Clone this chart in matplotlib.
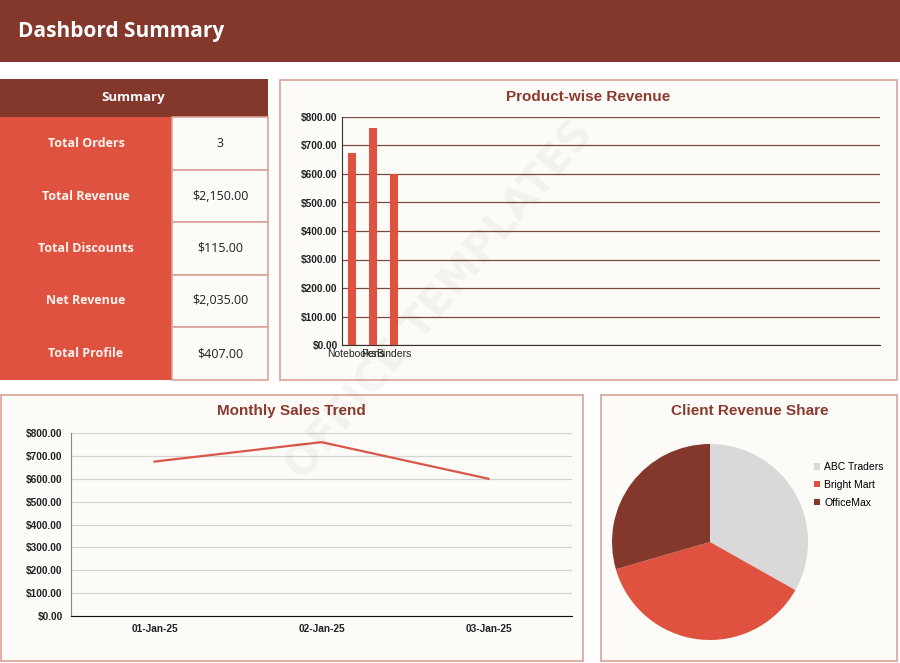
import matplotlib
matplotlib.use("Agg")
import matplotlib.pyplot as plt
from matplotlib.patches import Rectangle
from matplotlib.ticker import FuncFormatter

# ---- data ----
summary_labels = ["Total Orders", "Total Revenue", "Total Discounts", "Net Revenue", "Total Profile"]
summary_values = ["3", "$2,150.00", "$115.00", "$2,035.00", "$407.00"]
products = ["Notebooks", "Pens", "Binders"]
product_revenue = [675, 760, 600]
dates = ["01-Jan-25", "02-Jan-25", "03-Jan-25"]
daily_sales = [675, 760, 600]
clients = ["ABC Traders", "Bright Mart", "OfficeMax"]
client_revenue = [675, 760, 600]

DARK = "#84382C"
RED = "#E05240"
CREAM = "#FDFBF7"
BORDER = "#D9A39A"
TITLE = "#8B3A2E"

W, H = 900, 663
fig = plt.figure(figsize=(9, 6.63), dpi=100)
fig.patch.set_facecolor("#FFFFFF")

def fx(x): return x / W
def fy(y): return 1 - y / H

def rect(x0, y0, x1, y1, fc, ec="none", lw=1.0, z=-5):
    fig.add_artist(Rectangle((fx(x0), fy(y1)), fx(x1) - fx(x0), fy(y0) - fy(y1),
                             transform=fig.transFigure, facecolor=fc, edgecolor=ec,
                             linewidth=lw, zorder=z))

def ftext(x, y, s, **kw):
    fig.text(fx(x), fy(y), s, **kw)

# header
rect(0, 0, 900, 62, DARK)
ftext(18, 31, "Dashbord Summary", color="white", fontsize=15, fontweight="bold",
      family="Open Sans", va="center", ha="left")

# summary table
rect(0, 79, 268, 117, DARK)
ftext(133, 97, "Summary", color="white", fontsize=9.5, fontweight="bold",
      family="Open Sans", ha="center", va="center")
row_edges = [117, 170, 222, 275, 327, 380]
for i, (lab, val) in enumerate(zip(summary_labels, summary_values)):
    y0, y1 = row_edges[i], row_edges[i + 1]
    rect(0, y0, 172, y1, RED)
    rect(172, y0, 268, y1, CREAM, ec=BORDER, lw=1.2)
    ftext(86, (y0 + y1) / 2, lab, color="#FFF3EE", fontsize=9, fontweight="bold",
          family="Open Sans", ha="center", va="center")
    ftext(220, (y0 + y1) / 2, val, color="#222222", fontsize=9,
          family="Open Sans", ha="center", va="center")

# panels
rect(280, 80, 897, 380, CREAM, ec=BORDER, lw=1.2)
rect(1, 395, 583, 661, CREAM, ec=BORDER, lw=1.2)
rect(601, 395, 897, 661, CREAM, ec=BORDER, lw=1.2)

money = FuncFormatter(lambda v, p: "${:,.2f}".format(v))

# ---- bar chart ----
ax1 = fig.add_axes([fx(342), fy(345), fx(880) - fx(342), fy(117) - fy(345)])
ax1.set_facecolor("none")
x = list(range(len(products)))
ax1.bar(x, product_revenue, width=0.38, color=RED, zorder=3)
ax1.set_xlim(-0.48, 25.1)
ax1.set_ylim(0, 800)
ax1.set_yticks(range(0, 801, 100))
ax1.yaxis.set_major_formatter(money)
ax1.set_xticks(x)
ax1.set_xticklabels(products)
ax1.grid(axis="y", color="#7A4A40", linewidth=0.9, zorder=0)
for s in ["top", "right"]:
    ax1.spines[s].set_visible(False)
ax1.spines["left"].set_color("#333333")
ax1.spines["bottom"].set_color("#333333")
ax1.tick_params(length=0, labelsize=7.3, colors="#222222", pad=3)
for t in ax1.get_yticklabels():
    t.set_family("Liberation Sans")
    t.set_fontweight("bold")
for t in ax1.get_xticklabels():
    t.set_family("Liberation Sans")
    t.set_fontsize(7.5)
ftext(588, 97, "Product-wise Revenue", color=TITLE, fontsize=11, fontweight="bold",
      family="Liberation Sans", ha="center", va="center")

# ---- line chart ----
ax2 = fig.add_axes([fx(71), fy(616), fx(572) - fx(71), fy(433) - fy(616)])
ax2.set_facecolor("none")
xl = list(range(len(dates)))
ax2.plot(xl, daily_sales, color="#D9574A", linewidth=1.6, zorder=3)
ax2.set_xlim(-0.5, 2.5)
ax2.set_ylim(0, 800)
ax2.set_yticks(range(0, 801, 100))
ax2.yaxis.set_major_formatter(money)
ax2.set_xticks(xl)
ax2.set_xticklabels(dates)
ax2.grid(axis="y", color="#D4D4D4", linewidth=0.9, zorder=0)
for s in ["top", "right"]:
    ax2.spines[s].set_visible(False)
ax2.spines["left"].set_color("#888888")
ax2.spines["bottom"].set_color("#111111")
ax2.tick_params(length=0, labelsize=7.3, colors="#222222", pad=6)
for t in ax2.get_yticklabels() + ax2.get_xticklabels():
    t.set_family("Liberation Sans")
    t.set_fontweight("bold")
ftext(291, 411, "Monthly Sales Trend", color=TITLE, fontsize=11, fontweight="bold",
      family="Liberation Sans", ha="center", va="center")

# ---- pie chart ----
r = 98
ax3 = fig.add_axes([fx(710 - r), fy(542 + r), fx(2 * r), fy(542 - r) - fy(542 + r)])
wedges, _ = ax3.pie(client_revenue, colors=["#D9D9D9", RED, "#84382C"], startangle=90,
                    counterclock=False, radius=1.0)
ax3.set_aspect("equal")
ax3.set_xlim(-1, 1)
ax3.set_ylim(-1, 1)
leg = fig.legend(wedges, clients, loc="upper left", bbox_to_anchor=(fx(814), fy(462)),
                 frameon=False, handlelength=0.6, handleheight=0.6,
                 handletextpad=0.4, labelspacing=0.75, borderaxespad=0, borderpad=0,
                 prop={"family": "Liberation Sans", "size": 7.5})
ftext(750, 411, "Client Revenue Share", color=TITLE, fontsize=11, fontweight="bold",
      family="Liberation Sans", ha="center", va="center")

# watermark
ftext(440, 300, "OFFICE TEMPLATES", color="#000000", alpha=0.04, fontsize=30,
      fontweight="bold", family="DejaVu Sans", rotation=50, ha="center", va="center",
      zorder=10)

fig.savefig("out.png", dpi=100, facecolor=fig.get_facecolor())
